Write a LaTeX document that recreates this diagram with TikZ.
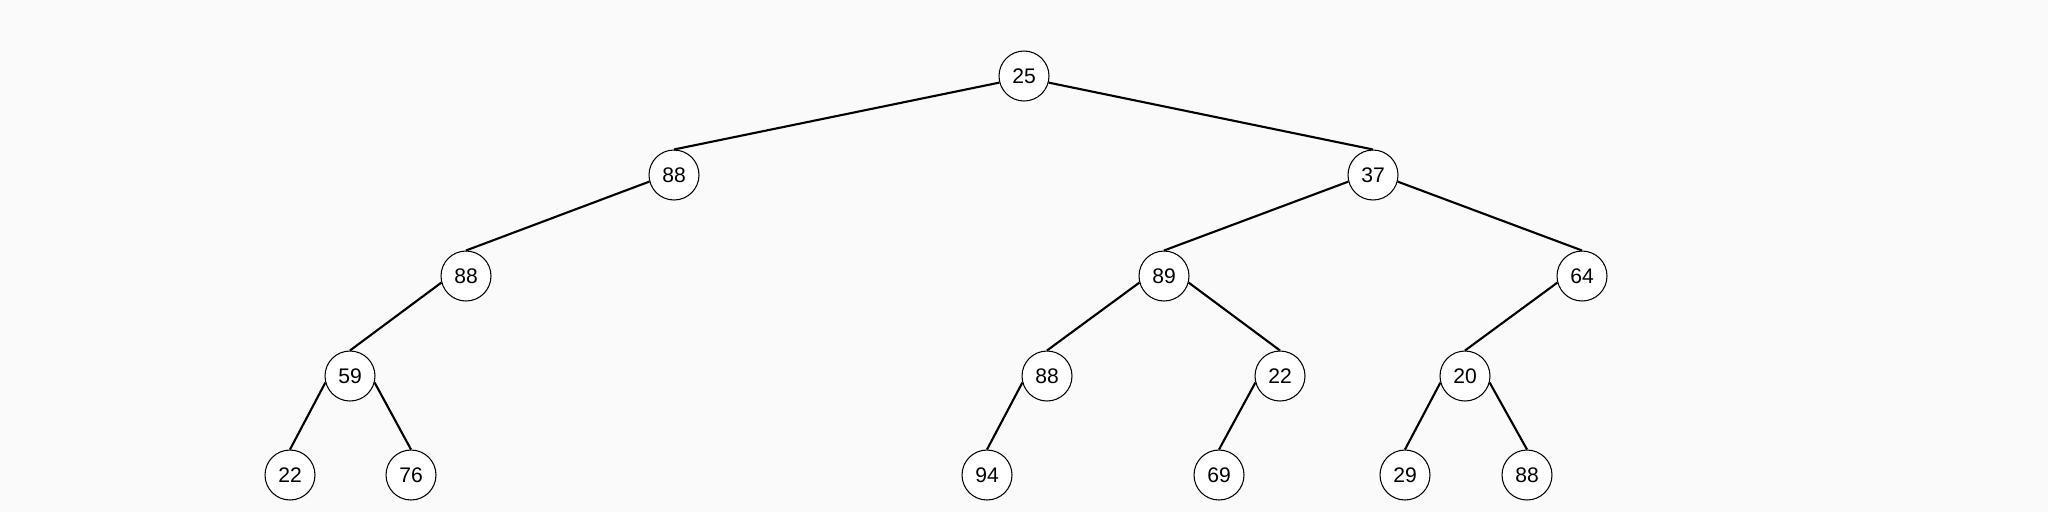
\documentclass[tikz,border=0pt]{standalone}
\usepackage{fontspec}
\setmainfont{Liberation Sans}
\usetikzlibrary{calc}
\definecolor{bgcol}{RGB}{250,250,250}

\begin{document}
\begin{tikzpicture}[x=0.02cm, y=-0.02cm,
        treenode/.style={circle, draw, fill=white, line width=0.6pt, minimum size=1cm, inner sep=0pt, font=\fontsize{12}{14}\selectfont},
        edge/.style={line width=1.2pt}]
        % Background and frame
        \fill[bgcol] (0,0) rectangle (2048,512);
        \useasboundingbox (0,0) rectangle (2048,512);
        % Level 0 and 1
        \node[treenode] (r) at (1024,76) {25};
        \node[treenode] (a) at (674,175) {88};
        \node[treenode] (b) at (1373,175) {37};
        % Level 2
        \node[treenode] (aa) at (466,276) {88};
        \node[treenode] (ba) at (1164,276) {89};
        \node[treenode] (bb) at (1582,276) {64};
        % Level 3
        \node[treenode] (aaa) at (350,376) {59};
        \node[treenode] (baa) at (1047,376) {88};
        \node[treenode] (bab) at (1280,376) {22};
        \node[treenode] (bba) at (1465,376) {20};
        % Level 4
        \node[treenode] (aaaa) at (290,475) {22};
        \node[treenode] (aaab) at (411,475) {76};
        \node[treenode] (baaa) at (987,475) {94};
        \node[treenode] (baba) at (1219,475) {69};
        \node[treenode] (bbaa) at (1405,475) {29};
        \node[treenode] (bbab) at (1527,475) {88};
        % Draw edges: left children leave at 195, right children at -15
        \foreach \p/\a/\c in {r/195/a, r/-15/b, a/195/aa, b/195/ba, b/-15/bb, aa/195/aaa,
                ba/195/baa, ba/-15/bab, bb/195/bba, aaa/195/aaaa, aaa/-15/aaab,
                baa/195/baaa, bab/195/baba, bba/195/bbaa, bba/-15/bbab} {
            \draw[edge] (\p.\a) -- (\c.north);
        }
\end{tikzpicture}
\end{document}
